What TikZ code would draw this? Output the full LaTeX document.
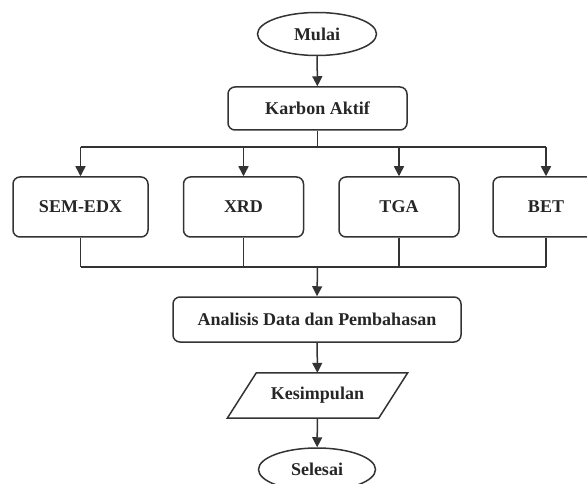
\documentclass[tikz,border=0pt]{standalone}
\usepackage{fontspec}
\setmainfont{Liberation Serif}
\usetikzlibrary{arrows.meta,shapes.geometric}
\begin{document}
\begin{tikzpicture}[x=1pt,y=-1pt,
  every node/.style={font=\fontsize{18}{21}\selectfont\bfseries, text=black!85},
  line/.style={line width=1.5pt, draw=black!80},
  arrow/.style={line, -{Triangle[length=10pt,width=10pt]}},
  terminal/.style={ellipse, line, inner sep=0pt},
  process/.style={rectangle, rounded corners=7pt, line, inner sep=0pt},
  io/.style={rectangle, inner sep=0pt, minimum width=151pt, minimum height=45pt}]
  \useasboundingbox (0,0) rectangle (587,484);
  \clip (0,0) rectangle (587,484);

  % start and first step
  \node[terminal, minimum width=119pt, minimum height=43pt] (mulai) at (317,34) {Mulai};
  \node[process, minimum width=179pt, minimum height=43pt] (karbon) at (317.5,108.5) {Karbon Aktif};

  % characterisation methods
  \node[process, minimum width=135pt, minimum height=60pt] (sem) at (80.5,207) {SEM-EDX};
  \node[process, minimum width=120pt, minimum height=60pt] (xrd) at (243.5,207) {XRD};
  \node[process, minimum width=120pt, minimum height=60pt] (tga) at (399,207) {TGA};
  \node[process, minimum width=106pt, minimum height=60pt] (bet) at (546,207) {BET};

  % analysis, conclusion, end
  \node[process, minimum width=288pt, minimum height=45pt] (analisis) at (317,319.5) {Analisis Data dan Pembahasan};
  \node[io] (kes) at (317.5,395.5) {Kesimpulan};
  \draw[line] ([xshift=-14.5pt]kes.south west) -- ([xshift=14.5pt]kes.north west)
    -- ([xshift=14.5pt]kes.north east) -- ([xshift=-14.5pt]kes.south east) -- cycle;
  \node[terminal, minimum width=117pt, minimum height=43pt] (selesai) at (317,469.5) {Selesai};

  % branching and joining points
  \coordinate (split) at (317.5,147);
  \coordinate (join) at (317.5,267);

  % connectors
  \draw[arrow] (mulai) -- (karbon);
  \draw[line] (karbon.south) -- (split);
  \draw[line] (split -| sem.north) -- (split -| bet.north);
  \draw[arrow] (split -| sem.north) -- (sem.north);
  \draw[arrow] (split -| xrd.north) -- (xrd.north);
  \draw[arrow] (split -| tga.north) -- (tga.north);
  \draw[arrow] (split -| bet.north) -- (bet.north);

  \draw[line] (sem.south) -- (join -| sem.south);
  \draw[line] (xrd.south) -- (join -| xrd.south);
  \draw[line] (tga.south) -- (join -| tga.south);
  \draw[line] (bet.south) -- (join -| bet.south);
  \draw[line] (join -| sem.south) -- (join -| bet.south);
  \draw[arrow] (join) -- (analisis.north);

  \draw[arrow] (analisis) -- (kes);
  \draw[arrow] (kes) -- (selesai);
\end{tikzpicture}
\end{document}
